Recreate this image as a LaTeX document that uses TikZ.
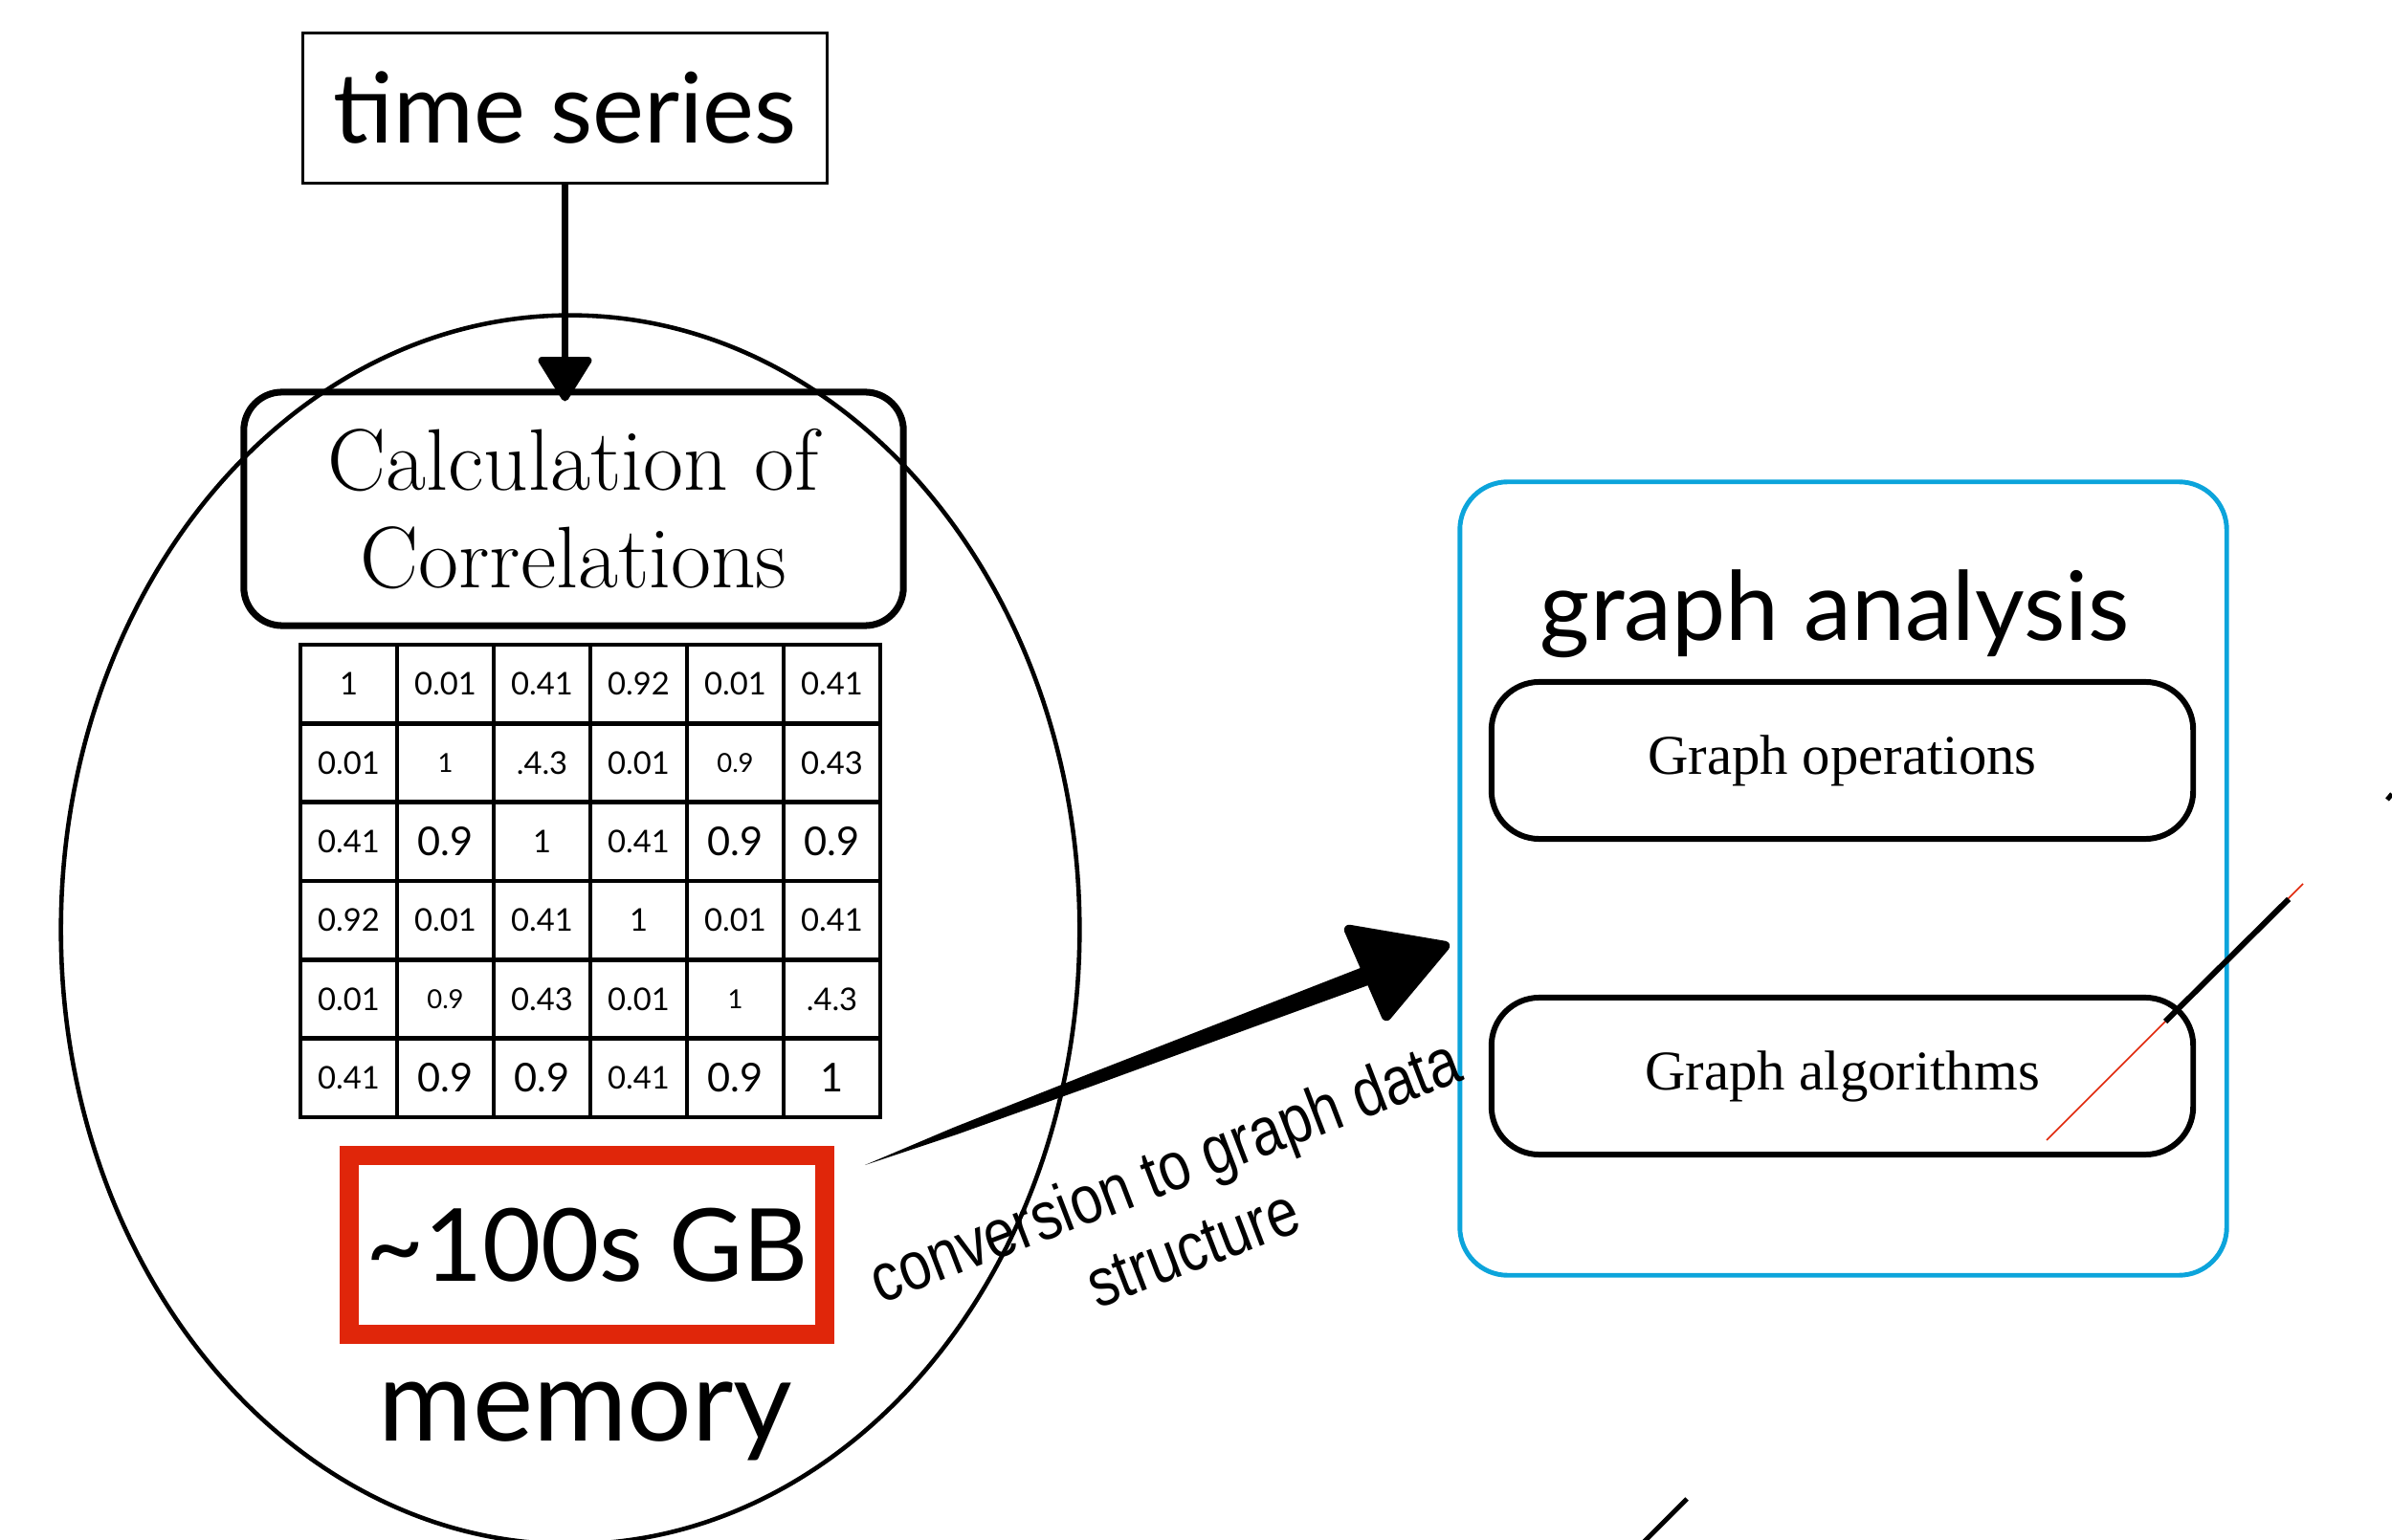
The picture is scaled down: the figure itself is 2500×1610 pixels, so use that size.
\documentclass[tikz,border=0pt]{standalone}
\usepackage{fontspec}
\newfontfamily\gillfont{Lato}
\newfontfamily\timesfont{Liberation Serif}
\newfontfamily\arialfont{Liberation Sans}
\usetikzlibrary{arrows.meta,calc}
\definecolor{gbred}{RGB}{224,38,10}
\definecolor{gablue}{RGB}{12,164,219}
\newcommand\cellN{\fontsize{9.3}{10}\selectfont}
\newcommand\cellB{\fontsize{11.8}{12}\selectfont}
\newcommand\cellS{\fontsize{7.8}{8}\selectfont}
\newcommand\tallconv[1]{\scalebox{1}[1.2]{#1}}
\begin{document}
\begin{tikzpicture}[x=0.01cm,y=-0.01cm,
  plainbox/.style={draw, line width=0.85pt, minimum width=5.47cm, minimum height=1.56cm, inner sep=0pt},
  calcbox/.style={draw, line width=2pt, rounded corners=0.4cm, minimum width=6.89cm, minimum height=2.44cm, inner sep=0pt, align=center},
  gridline/.style={line width=1.4pt, line cap=rect},
  gbbox/.style={draw=gbred, line width=5.7pt, minimum width=4.97cm, minimum height=1.87cm, inner sep=0pt},
  bluebox/.style={draw=gablue, line width=1.4pt, rounded corners=0.5cm, minimum width=8.01cm, minimum height=8.29cm, inner sep=0pt},
  gbox/.style={draw, line width=1.7pt, rounded corners=0.5cm, minimum width=7.33cm, minimum height=1.64cm, inner sep=0pt, font=\timesfont\fontsize{16.7}{18}\selectfont},
  convlabel/.style={rotate=21, anchor=base, inner sep=0pt, font=\arialfont\fontsize{16.9}{18}\selectfont},
  flowarrow/.style={line width=2.2pt, -{Triangle[length=0.5cm, width=0.6cm, round]}}
]
\useasboundingbox (0,0) rectangle (2500,1610);

% memory ellipse
\draw[line width=1.3pt] (596,972) ellipse [x radius=5.32cm, y radius=6.42cm];

% time series
\node[plainbox, font={\gillfont\fontsize{29}{30}\selectfont}] (ts) at (590.5,113) {time series};

% calculation box
\node[calcbox, font={\fontsize{26}{29}\selectfont}] (calc) at (599.5,532) {Calculation of\\Correlations};

\draw[flowarrow, shorten >=-0.13cm] (ts.south) -- (ts.south |- calc.north);

% matrix
\foreach \row [count=\i] in {
  {\cellN/1,\cellN/0.01,\cellN/0.41,\cellN/0.92,\cellN/0.01,\cellN/0.41},
  {\cellN/0.01,\cellS/1,\cellN/.4.3,\cellN/0.01,\cellS/0.9,\cellN/0.43},
  {\cellN/0.41,\cellB/0.9,\cellN/1,\cellN/0.41,\cellB/0.9,\cellB/0.9},
  {\cellN/0.92,\cellN/0.01,\cellN/0.41,\cellN/1,\cellN/0.01,\cellN/0.41},
  {\cellN/0.01,\cellS/0.9,\cellN/0.43,\cellN/0.01,\cellS/1,\cellN/.4.3},
  {\cellN/0.41,\cellB/0.9,\cellB/0.9,\cellN/0.41,\cellB/0.9,\cellB/1}}
  \foreach \sz/\v [count=\j] in \row
    \node[font=\gillfont, inner sep=0pt] (m-\i-\j) at ({314+101*(\j-0.5)},{674+82.33*(\i-0.5)}) {\sz\v};
\foreach \k in {0,...,6} {
  \draw[gridline] ({314+101*\k},674) -- ({314+101*\k},1168);
  \draw[gridline] (314,{674+82.33*\k}) -- (920,{674+82.33*\k});
}

% size box
\node[gbbox, font={\gillfont\fontsize{30}{32}\selectfont}] (gb) at (613.5,1301.5) {\textasciitilde100s GB};
\node[anchor=base, font={\gillfont\fontsize{34}{36}\selectfont}] (mem) at (612,1506) {memory};

% graph analysis
\node[bluebox] (ga) at (1926.5,918.5) {};
\node[anchor=base, font={\gillfont\fontsize{28.5}{30}\selectfont}] (gatitle) at (1918,670) {graph analysis};
\node[gbox] (gops) at (1925.5,795) {Graph operations};
\node[gbox] (galg) at (1925.5,1125) {Graph algorithms};

% conversion arrow (brush-like tapered shaft + head)
\coordinate (cvtail) at (904,1218);
\coordinate (cvtip) at (1510,989);
\fill (cvtail) -- (996,1179) -- (1135.5,1123.7) -- (1275,1069.3) -- (1433.5,1007.4)
      -- (1440.5,1026.2) -- (1281,1084.3) -- (1140,1135.9) -- (999,1186.4) -- cycle;
\filldraw[line width=3pt, line join=round] (1410,972) -- (cvtip) -- (1449,1062) -- cycle;
\node[convlabel] (cv1) at (1226,1246) {\tallconv{conversion to graph data}};
\node[convlabel] (cv2) at (1255,1327) {\tallconv{structure}};

% stray strokes
\draw[gbred, line width=0.45pt] (2407,924) -- (2139,1192);
\draw[line width=1.7pt] (2392,940) -- (2263,1068);
\draw[line width=1.4pt] (2495,836) -- (2500,830);
\draw[line width=1.4pt] (1763,1567) -- (1718,1612);
\end{tikzpicture}
\end{document}
